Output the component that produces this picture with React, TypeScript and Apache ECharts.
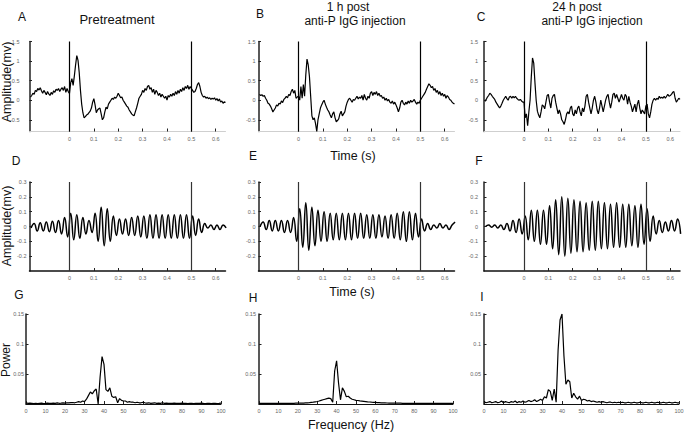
import React, { useEffect, useRef } from "react";
import * as echarts from "echarts";

// ---- sampling of the traces ----
const RAW_START = -0.16; // s
const RAW_STEP = 0.005; // s
const OSC_START = -0.1575; // s (40 Hz peaks / troughs)
const OSC_STEP = 0.0125; // s
const FREQ_START = 0; // Hz
const FREQ_STEP = 1; // Hz

// ---- raw field potentials (mV) ----
const rawPre = [
  0.08, 0.12, 0.18, 0.15, 0.25, 0.22, 0.3, 0.26, 0.32, 0.24,
  0.18, 0.25, 0.2, 0.14, 0.22, 0.16, 0.12, 0.2, 0.15, 0.24,
  0.2, 0.28, 0.25, 0.3, 0.22, 0.28, 0.32, 0.25, 0.35, 0.2,
  0.3, 0.22, 0.17, 0.45, 0.55, 0.38, 0.62, 0.9, 1.14, 1.02,
  0.7, 0.25, -0.1, -0.32, -0.45, -0.42, -0.38, -0.36, -0.32, -0.28,
  -0.2, -0.05, 0.04, -0.12, -0.32, -0.25, -0.22, -0.2, -0.35, -0.5,
  -0.45, -0.3, -0.18, -0.22, -0.1, -0.05, 0.0, 0.05, 0.02, 0.08,
  0.05, 0.1, 0.18, 0.12, 0.06, 0.08, 0.0, -0.05, -0.1, -0.15,
  -0.18, -0.25, -0.3, -0.35, -0.38, -0.4, -0.3, -0.2, -0.08, 0.05,
  0.1, 0.15, 0.25, 0.2, 0.3, 0.25, 0.35, 0.38, 0.28, 0.32,
  0.2, 0.28, 0.15, 0.25, 0.2, 0.12, 0.18, 0.08, 0.15, 0.1,
  0.05, 0.1, 0.0, 0.12, 0.08, 0.15, 0.1, 0.18, 0.12, 0.22,
  0.15, 0.25, 0.18, 0.28, 0.22, 0.32, 0.25, 0.35, 0.3, 0.38,
  0.28, 0.35, 0.3, 0.25, 0.2, 0.22, 0.3, 0.4, 0.45, 0.35,
  0.2, 0.12, 0.08, 0.1, 0.05, 0.08, 0.04, 0.06, 0.02, 0.05,
  0.03, 0.06, 0.0, 0.04, -0.02, 0.03, -0.05, -0.02, -0.08, -0.04,
  -0.06,
];
const rawPost1h = [
  0.15, 0.12, 0.14, 0.1, 0.12, 0.05, 0.0, -0.08, -0.1, -0.15,
  -0.22, -0.3, -0.25, -0.2, -0.12, -0.15, -0.08, -0.1, -0.02, -0.06,
  0.02, 0.05, 0.1, 0.06, 0.15, 0.12, 0.22, 0.28, 0.18, 0.25,
  0.05, 0.08, 0.1, 0.0, 0.35, 0.05, 0.4, 0.1, 0.65, 1.05,
  0.9, 0.6, 0.1, -0.4, -0.5, -0.45, -0.6, -0.8, -0.5, -0.35,
  -0.2, -0.12, -0.05, 0.0, -0.1, -0.18, -0.25, -0.3, -0.38, -0.45,
  -0.35, -0.3, -0.45, -0.55, -0.52, -0.48, -0.35, -0.28, -0.4, -0.35,
  -0.3, -0.15, -0.05, 0.02, 0.05, 0.0, -0.05, 0.02, 0.0, 0.05,
  0.1, 0.03, 0.08, 0.05, 0.12, 0.0, 0.15, 0.05, 0.0, 0.1,
  0.05, 0.18, 0.22, 0.12, 0.2, 0.15, 0.22, 0.12, 0.18, 0.1,
  0.12, 0.05, 0.08, 0.0, 0.05, -0.02, 0.02, -0.05, -0.08, -0.02,
  -0.1, -0.05, -0.12, -0.2, -0.3, -0.2, -0.05, 0.0, -0.08, -0.12,
  -0.05, -0.1, -0.02, -0.08, 0.0, -0.05, -0.02, 0.02, -0.05, -0.1,
  -0.05, -0.08, 0.0, 0.05, 0.1, 0.15, 0.2, 0.28, 0.35, 0.42,
  0.38, 0.32, 0.35, 0.25, 0.3, 0.2, 0.25, 0.15, 0.22, 0.12,
  0.18, 0.1, 0.15, 0.05, 0.12, 0.08, 0.02, 0.0, -0.05, -0.08,
  -0.1,
];
const rawPost24h = [
  -0.03, 0.02, 0.08, 0.12, 0.18, 0.15, 0.1, 0.06, 0.02, -0.05,
  -0.1, -0.15, -0.2, -0.15, -0.08, 0.0, 0.05, 0.1, 0.04, 0.0,
  0.08, 0.1, 0.05, 0.1, 0.06, 0.1, 0.05, 0.02, 0.0, 0.02,
  -0.02, -0.05, -0.05, -0.45, -0.35, -0.65, -0.3, 0.0, 0.6, 1.08,
  0.95, 0.45, 0.0, -0.28, -0.38, -0.45, -0.3, -0.12, -0.15, -0.22,
  -0.05, 0.12, 0.15, -0.05, -0.2, 0.05, 0.12, 0.15, -0.05, -0.2,
  -0.35, -0.25, -0.35, -0.5, -0.55, -0.62, -0.5, -0.35, -0.3, -0.35,
  -0.2, -0.15, -0.35, -0.4, -0.25, -0.35, -0.2, -0.15, -0.3, -0.4,
  -0.2, -0.3, -0.15, 0.1, 0.15, -0.05, -0.2, -0.35, -0.2, 0.0,
  0.1, -0.05, -0.25, -0.35, -0.2, 0.0, -0.15, -0.3, -0.15, 0.0,
  0.1, 0.15, -0.05, -0.2, -0.05, 0.15, 0.18, 0.05, 0.15, 0.05,
  -0.05, 0.05, 0.15, 0.05, 0.0, 0.15, 0.1, -0.1, 0.1, -0.05,
  -0.15, -0.3, -0.2, -0.1, -0.3, -0.1, 0.0, -0.2, -0.35, -0.25,
  -0.3, -0.35, -0.15, -0.1, -0.35, -0.45, -0.3, -0.1, 0.0, 0.05,
  0.0, 0.05, 0.02, 0.1, 0.05, 0.08, 0.05, 0.1, 0.05, 0.1,
  0.15, 0.1, 0.12, 0.15, 0.2, 0.22, 0.05, -0.05, 0.0, 0.05,
  0.02,
];

// ---- filtered 40 Hz oscillations (mV), peak / trough values ----
const oscPre = [
  -0.01, 0.02, -0.03, 0.025, -0.03, 0.03, -0.035, 0.035, -0.04, 0.04,
  -0.05, 0.06, -0.07, 0.09, -0.09, 0.08, -0.08, 0.06, -0.05, 0.04,
  -0.04, 0.09, -0.1, 0.13, -0.13, 0.12, -0.1, 0.07, -0.06, 0.05,
  -0.05, 0.05, -0.06, 0.06, -0.06, 0.07, -0.07, 0.07, -0.08, 0.08,
  -0.08, 0.08, -0.08, 0.08, -0.08, 0.08, -0.08, 0.08, -0.08, 0.08,
  -0.08, 0.08, -0.08, 0.07, -0.06, 0.05, -0.04, 0.02, -0.01, 0.01,
  -0.02, 0.01, -0.02, 0.01, -0.01,
];
const oscPost1h = [
  0.0, 0.03, -0.02, 0.04, -0.03, 0.04, -0.03, 0.04, -0.04, 0.04,
  -0.04, 0.06, -0.1, 0.12, -0.14, 0.16, -0.16, 0.13, -0.13, 0.11,
  -0.1, 0.1, -0.1, 0.09, -0.09, 0.09, -0.09, 0.09, -0.09, 0.09,
  -0.09, 0.09, -0.08, 0.09, -0.08, 0.08, -0.08, 0.08, -0.08, 0.08,
  -0.07, 0.07, -0.08, 0.08, -0.08, 0.09, -0.09, 0.1, -0.1, 0.1,
  -0.09, 0.09, -0.07, 0.05, -0.03, 0.02, -0.02, 0.01, -0.01, 0.02,
  -0.01, 0.01, -0.02, 0.01, 0.03,
];
const oscPost24h = [
  0.0, 0.01, -0.005, 0.01, -0.01, 0.01, -0.02, 0.02, -0.03, 0.04,
  -0.04, 0.05, -0.05, 0.07, -0.09, 0.11, -0.1, 0.11, -0.12, 0.11,
  -0.12, 0.14, -0.15, 0.18, -0.19, 0.2, -0.2, 0.19, -0.18, 0.18,
  -0.17, 0.17, -0.17, 0.16, -0.16, 0.17, -0.16, 0.17, -0.15, 0.16,
  -0.15, 0.15, -0.14, 0.16, -0.14, 0.15, -0.14, 0.15, -0.13, 0.14,
  -0.14, 0.15, -0.12, 0.12, -0.1, 0.07, -0.05, 0.04, -0.04, 0.03,
  -0.03, 0.04, -0.03, 0.05, -0.05,
];

// ---- power spectra, 0..100 Hz ----
const powerPre = [
  0.002, 0.001, 0.0015, 0.001, 0.0005, 0.001, 0.0005, 0.001, 0.0015, 0.0008,
  0.001, 0.0015, 0.001, 0.0012, 0.0015, 0.001, 0.0018, 0.0012, 0.0015, 0.002,
  0.0015, 0.002, 0.0018, 0.0022, 0.0025, 0.002, 0.003, 0.004, 0.003, 0.005,
  0.004, 0.008, 0.014, 0.02, 0.017, 0.022, 0.025, 0.0, 0.045, 0.079,
  0.066, 0.024, 0.021, 0.027, 0.013, 0.011, 0.012, 0.002, 0.009, 0.006,
  0.005, 0.005, 0.003, 0.004, 0.003, 0.003, 0.002, 0.003, 0.002, 0.002,
  0.003, 0.002, 0.0015, 0.002, 0.001, 0.0015, 0.002, 0.001, 0.0015, 0.001,
  0.002, 0.001, 0.0015, 0.001, 0.0012, 0.001, 0.0015, 0.001, 0.0012, 0.001,
  0.0015, 0.001, 0.0012, 0.0008, 0.001, 0.0012, 0.0008, 0.001, 0.0012, 0.001,
  0.0015, 0.001, 0.0008, 0.001, 0.0012, 0.0008, 0.001, 0.0012, 0.0008, 0.001,
  0.0015,
];
const powerPost1h = [
  0.0012, 0.001, 0.001, 0.0009, 0.001, 0.001, 0.0009, 0.001, 0.001, 0.001,
  0.001, 0.001, 0.0011, 0.001, 0.001, 0.0011, 0.0011, 0.0012, 0.0012, 0.0013,
  0.0013, 0.0014, 0.0015, 0.0016, 0.0018, 0.002, 0.0023, 0.0027, 0.003, 0.0036,
  0.0042, 0.005, 0.006, 0.007, 0.008, 0.009, 0.0098, 0.009, 0.003, 0.055,
  0.072, 0.035, 0.007, 0.027, 0.021, 0.012, 0.013, 0.01, 0.008, 0.007,
  0.006, 0.0058, 0.0052, 0.0048, 0.0044, 0.004, 0.0036, 0.0033, 0.003, 0.0028,
  0.0026, 0.0024, 0.0022, 0.002, 0.0019, 0.0018, 0.0017, 0.0016, 0.0015, 0.0015,
  0.0014, 0.0014, 0.0013, 0.0013, 0.0012, 0.0012, 0.0012, 0.0011, 0.0011, 0.0011,
  0.001, 0.001, 0.001, 0.001, 0.001, 0.001, 0.001, 0.001, 0.001, 0.001,
  0.001, 0.001, 0.001, 0.001, 0.001, 0.001, 0.001, 0.001, 0.001, 0.001,
  0.001,
];
const powerPost24h = [
  0.004, 0.002, 0.003, 0.004, 0.002, 0.003, 0.004, 0.002, 0.003, 0.005,
  0.002, 0.004, 0.003, 0.002, 0.004, 0.003, 0.005, 0.002, 0.004, 0.003,
  0.005, 0.003, 0.004, 0.006, 0.004, 0.005, 0.007, 0.004, 0.006, 0.008,
  0.006, 0.012, 0.01, 0.024, 0.021, 0.006, 0.025, 0.003, 0.09, 0.14,
  0.15, 0.08, 0.033, 0.04, 0.037, 0.01, 0.018, 0.012, 0.008, 0.013,
  0.006, 0.008, 0.007, 0.005, 0.006, 0.004, 0.005, 0.004, 0.003, 0.004,
  0.003, 0.004, 0.003, 0.002, 0.003, 0.003, 0.002, 0.003, 0.002, 0.003,
  0.002, 0.003, 0.002, 0.002, 0.003, 0.002, 0.002, 0.003, 0.002, 0.002,
  0.003, 0.002, 0.002, 0.003, 0.002, 0.002, 0.003, 0.002, 0.002, 0.003,
  0.002, 0.002, 0.003, 0.002, 0.002, 0.003, 0.002, 0.002, 0.003, 0.002,
  0.002,
];

// ---- ticks ----
const timeTicks = [0, 0.1, 0.2, 0.3, 0.4, 0.5, 0.6];
const rawAmpTicks = [-0.5, 0, 0.5, 1, 1.5];
const oscAmpTicks = [-0.2, -0.1, 0, 0.1, 0.2, 0.3];
const freqTicks = [0, 10, 20, 30, 40, 50, 60, 70, 80, 90, 100];
const powerTicks = [0.05, 0.1, 0.15];
const stimulusTimes = [0, 0.5];

const FONT = "'Liberation Sans', Arial, Helvetica, sans-serif";

function pairs(values: number[], start: number, step: number) {
  return values.map((v, i) => [Number((start + i * step).toFixed(5)), v]);
}

type Kind = "raw" | "osc" | "psd";
interface PanelDef {
  kind: Kind;
  left: number;
  top: number;
  width: number;
  height: number;
  values: number[];
  yMargin: number;
}

const panels: PanelDef[] = [
  { kind: "raw", left: 29.5, top: 41.5, width: 196, height: 90, values: rawPre, yMargin: 10 },
  { kind: "raw", left: 258.5, top: 41.5, width: 196, height: 90, values: rawPost1h, yMargin: 3 },
  { kind: "raw", left: 484, top: 41.5, width: 196, height: 90, values: rawPost24h, yMargin: 6 },
  { kind: "osc", left: 29.5, top: 182, width: 196, height: 89, values: oscPre, yMargin: 3 },
  { kind: "osc", left: 258.5, top: 182, width: 196, height: 89, values: oscPost1h, yMargin: 3 },
  { kind: "osc", left: 484, top: 182, width: 196, height: 89, values: oscPost24h, yMargin: 6 },
  { kind: "psd", left: 26, top: 314, width: 195, height: 90, values: powerPre, yMargin: 2 },
  { kind: "psd", left: 259, top: 314, width: 194, height: 90, values: powerPost1h, yMargin: 3 },
  { kind: "psd", left: 484, top: 314, width: 195, height: 90, values: powerPost24h, yMargin: 3 },
];

function buildOption() {
  const grid: any[] = [];
  const xAxis: any[] = [];
  const yAxis: any[] = [];
  const series: any[] = [];
  const tickLabel = { fontSize: 5.5, color: "#666", fontFamily: FONT };

  panels.forEach((p, i) => {
    grid.push({
      left: p.left,
      top: p.top,
      width: p.width,
      height: p.height,
      containLabel: false,
      outerBoundsMode: "none",
    });
    const isTime = p.kind !== "psd";
    const xt = isTime ? timeTicks : freqTicks;
    xAxis.push({
      type: "value",
      gridIndex: i,
      min: isTime ? -0.164 : 0,
      max: isTime ? 0.64 : 100,
      axisLine: {
        show: true,
        onZero: false,
        lineStyle: {
          color: p.kind === "raw" ? "#cfcfcf" : "#111",
          width: p.kind === "osc" ? 1.5 : 1,
        },
      },
      axisTick: { show: true, inside: true, length: 3, customValues: xt, lineStyle: { color: "#222", width: 1 } },
      axisLabel: { ...tickLabel, margin: 4, customValues: xt },
      splitLine: { show: false },
    });
    const yt = p.kind === "raw" ? rawAmpTicks : p.kind === "osc" ? oscAmpTicks : powerTicks;
    yAxis.push({
      type: "value",
      gridIndex: i,
      min: p.kind === "raw" ? -0.8 : p.kind === "osc" ? -0.3 : 0,
      max: p.kind === "raw" ? 1.5 : p.kind === "osc" ? 0.3 : 0.15,
      axisLine: { show: true, onZero: false, lineStyle: { color: "#222", width: 1.5 } },
      axisTick: { show: true, inside: true, length: 2.5, customValues: yt, lineStyle: { color: "#222", width: 1 } },
      axisLabel: { ...tickLabel, margin: p.yMargin, customValues: yt },
      splitLine: { show: false },
    });

    const data =
      p.kind === "raw"
        ? pairs(p.values, RAW_START, RAW_STEP)
        : p.kind === "osc"
        ? pairs(p.values, OSC_START, OSC_STEP)
        : pairs(p.values, FREQ_START, FREQ_STEP);

    const s: any = {
      type: "line",
      xAxisIndex: i,
      yAxisIndex: i,
      data,
      symbol: "none",
      showSymbol: false,
      silent: true,
      clip: true,
      smooth: p.kind === "osc" ? 0.5 : false,
      lineStyle: { color: "#000", width: p.kind === "osc" ? 1.5 : 1.2 },
    };
    if (isTime) {
      s.markLine = {
        silent: true,
        symbol: ["none", "none"],
        label: { show: false },
        lineStyle: { color: p.kind === "raw" ? "#000" : "#333", width: 1.2, type: "solid" },
        data: stimulusTimes.map((t) => ({ xAxis: t })),
      };
    }
    series.push(s);
  });

  const txt = (text: string, x: number, y: number, size: number, extra: any = {}) => ({
    type: "text",
    x,
    y,
    silent: true,
    ...extra,
    style: {
      text,
      fontSize: size,
      fontFamily: FONT,
      fill: "#111",
      textAlign: "center",
      textVerticalAlign: "middle",
    },
  });

  const graphic = [
    txt("A", 22, 17, 12),
    txt("Pretreatment", 117, 19, 13),
    txt("B", 260, 14, 12),
    txt("1 h post", 348, 7, 12),
    txt("anti-P IgG injection", 355, 21, 12),
    txt("C", 481, 17, 12),
    txt("24 h post", 577, 7, 12),
    txt("anti-P IgG injection", 592, 21, 12),
    txt("Time (s)", 353, 156, 12.5),
    txt("D", 16, 161, 12),
    txt("E", 253, 156, 12),
    txt("F", 479, 161, 12),
    txt("Time (s)", 352, 292, 12.5),
    txt("G", 19, 295, 12),
    txt("H", 253, 298, 12),
    txt("I", 482, 297, 12),
    txt("Frequency (Hz)", 351, 425, 12.5),
    txt("Amplitude(mv)", 6.5, 82, 12.5, { rotation: Math.PI / 2 }),
    txt("Amplitude(mv)", 6.5, 226, 12.5, { rotation: Math.PI / 2 }),
    txt("Power", 6, 360, 12, { rotation: Math.PI / 2 }),
  ];

  return {
    animation: false,
    backgroundColor: "#fff",
    grid,
    xAxis,
    yAxis,
    series,
    graphic,
  };
}

export default function App() {
  const ref = useRef<HTMLDivElement | null>(null);
  useEffect(() => {
    if (!ref.current) return;
    const chart = echarts.init(ref.current, undefined, { renderer: "svg" });
    chart.setOption(buildOption() as any);
    return () => chart.dispose();
  }, []);
  return (
    <div
      ref={ref}
      style={{ position: "fixed", left: 0, top: 0, width: 685, height: 432, background: "#fff" }}
    />
  );
}
